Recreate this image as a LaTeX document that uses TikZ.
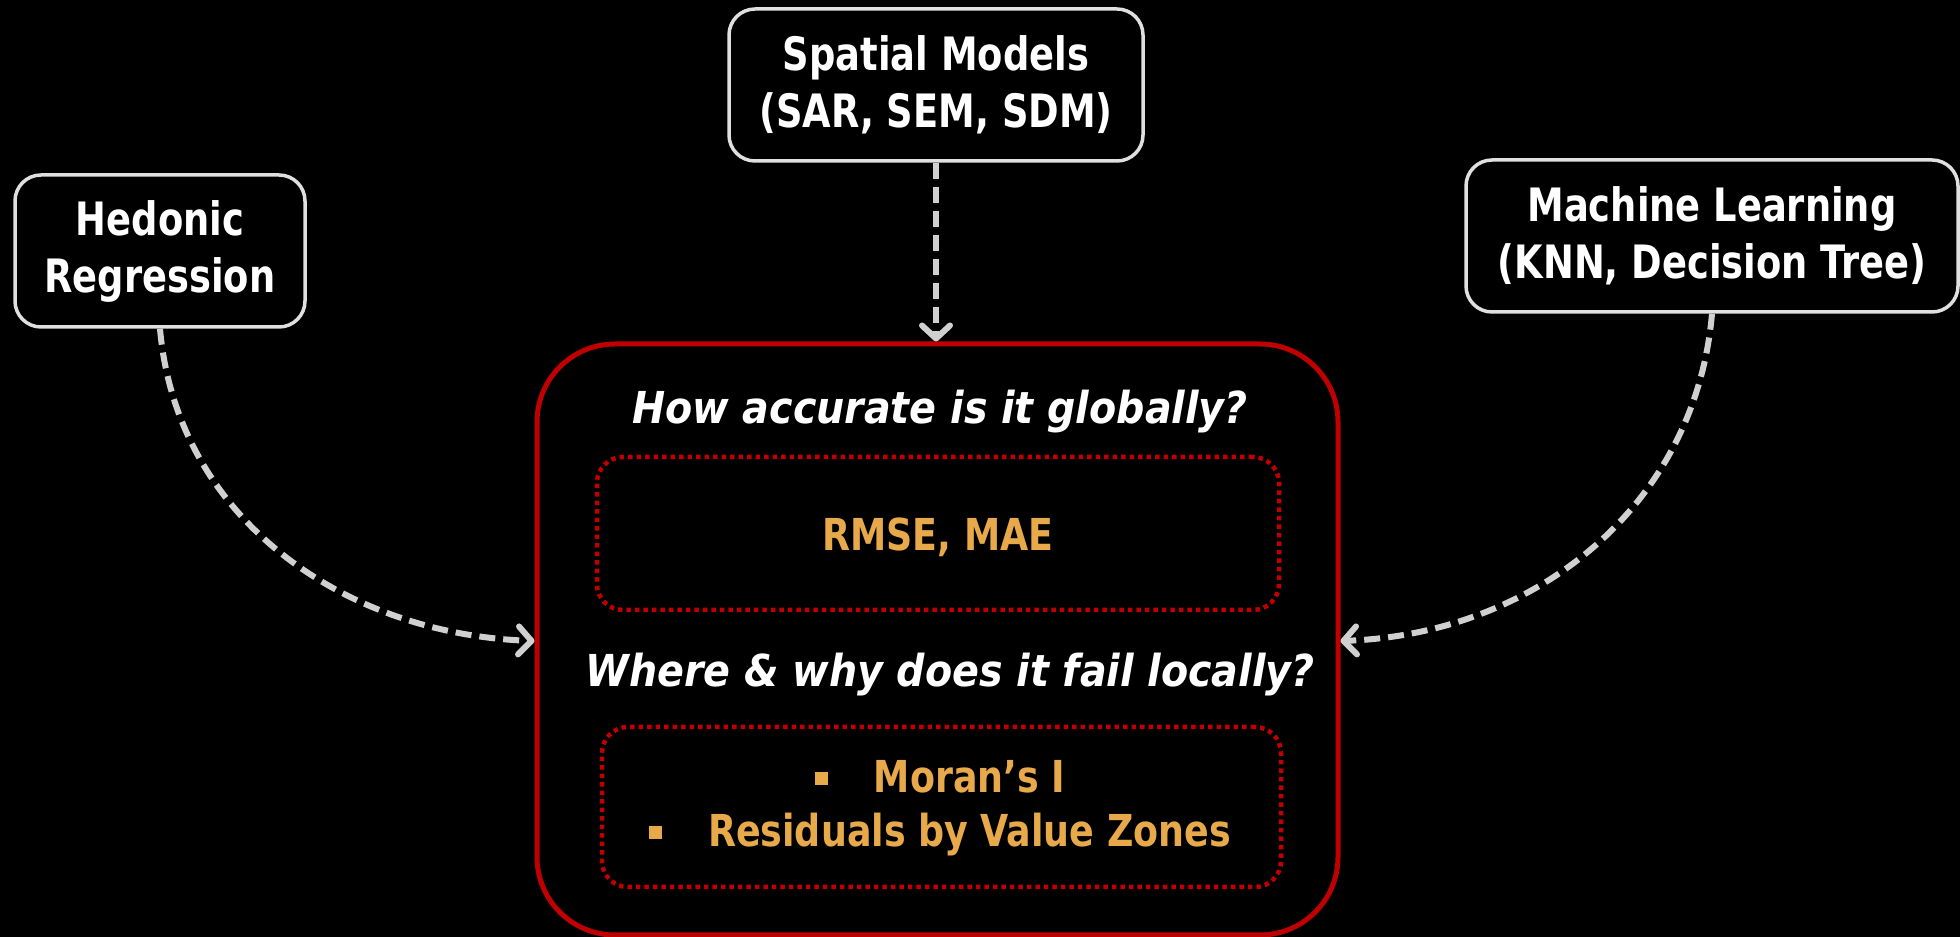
\documentclass[tikz,border=0pt]{standalone}
\usepackage{fontspec}
\setmainfont{DejaVu Sans Condensed}
\newfontfamily\boxfont{DejaVu Sans Condensed}[FakeStretch=0.89]
\newfontfamily\metricfont{DejaVu Sans Condensed}[FakeStretch=0.92]
\usetikzlibrary{arrows.meta}
\definecolor{pagebg}{HTML}{000000}
\definecolor{boxline}{HTML}{E0E0E0}
\definecolor{evalred}{HTML}{C00000}
\definecolor{metric}{HTML}{E8A94A}
\definecolor{flow}{HTML}{D0D0D0}
\newcommand{\sqbullet}{\textcolor{metric}{\raisebox{8pt}{\rule{13pt}{13pt}}}}
\tikzset{
  modelbox/.style={draw=boxline, line width=3.5pt, fill=black, rounded corners=26pt,
    text=white, font=\fontsize{46}{57}\selectfont\boxfont\bfseries, align=center,
    minimum height=152pt, inner sep=0pt},
  evalbox/.style={draw=evalred, line width=5pt, rounded corners=78pt,
    minimum width=801pt, minimum height=591pt, inner sep=0pt},
  metricbox/.style={draw=evalred, line width=4.5pt, dash pattern=on 4.5pt off 4pt,
    rounded corners=26pt, inner sep=0pt},
  question/.style={text=white, font=\fontsize{44}{54}\selectfont\bfseries\itshape},
  metrictext/.style={text=metric, font=\fontsize{44}{58}\selectfont\metricfont\bfseries},
  flowarrow/.style={draw=flow, line width=6pt, dash pattern=on 16pt off 8pt,
    -{Straight Barb[length=13pt, width=28pt, round, line width=6pt]}}
}
\begin{document}
\begin{tikzpicture}[x=1pt, y=1pt]
  \fill[pagebg] (0,0) rectangle (1960,937);
  \useasboundingbox (0,0) rectangle (1960,937);

  % source model boxes
  \node[modelbox, minimum width=414pt] (spatial) at (936,852)
    {Spatial Models\\(SAR, SEM, SDM)};
  \node[modelbox, minimum width=290pt] (hedonic) at (160,686)
    {Hedonic\\Regression};
  \node[modelbox, minimum width=492pt] (ml) at (1712,701)
    {Machine Learning\\(KNN, Decision Tree)};

  % evaluation frame
  \node[evalbox] (eval) at (937.5,297.5) {};
  \node[question] (global) at (940,525) {How accurate is it globally?};
  \node[metricbox, minimum width=682pt, minimum height=153pt] (globalbox) at (938,403.5) {};
  \node[metrictext] (rmse) at (938,400) {RMSE, MAE};
  \node[question] (local) at (950,262) {Where \& why does it fail locally?};
  \node[metricbox, minimum width=679pt, minimum height=160pt] (localbox) at (941.5,130) {};
  \node[metrictext] (moran) at (940,160) {\sqbullet\hspace{46pt}Moran’s I};
  \node[metrictext] (resid) at (940,102) {\sqbullet\hspace{46pt}Residuals by Value Zones};

  % connectors
  \draw[flowarrow] (spatial.south) -- (spatial.south |- eval.north);
  \draw[flowarrow] (hedonic.south) to[out=-85, in=178] (eval.west |- 0,296);
  \draw[flowarrow] (ml.south) to[out=-95, in=2] (eval.east |- 0,296);
\end{tikzpicture}
\end{document}
